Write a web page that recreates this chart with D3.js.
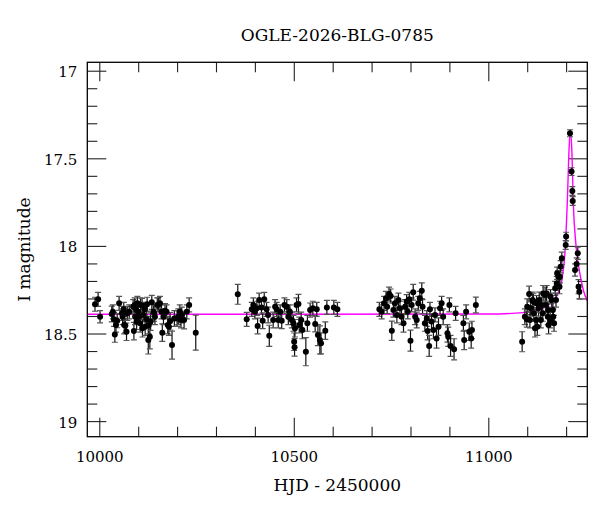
<!DOCTYPE html>
<html>
<head>
<meta charset="utf-8">
<script src="https://cdn.jsdelivr.net/npm/d3@7"></script>
<style>
  body { margin: 0; background: #fff; }
  svg text { font-family: 'DejaVu Serif', serif; fill: #000; }
</style>
</head>
<body>
<div id="chart"></div>
<script>
'use strict';

var title = 'OGLE-2026-BLG-0785',
    xAxisLabel = 'HJD - 2450000',
    yAxisLabel = 'I magnitude';

var xMajorTicks = [ 10000, 10500, 11000 ],
    xTickLabels = [ '10000', '10500', '11000' ],
    xMinorTicks = [ 10100, 10200, 10300, 10400, 10600, 10700, 10800, 10900, 11100, 11200 ],
    yMajorTicks = [ 17, 17.5, 18, 18.5, 19 ],
    yTickLabels = [ '17', '17.5', '18', '18.5', '19' ],
    yMinorTicks = [ 17.1, 17.2, 17.3, 17.4, 17.6, 17.7, 17.8, 17.9, 18.1, 18.2,
                    18.3, 18.4, 18.6, 18.7, 18.8, 18.9 ];

// OGLE photometry
var hjd = [
  9989, 9997, 10002, 10032, 10035, 10038, 10040, 10043, 10046, 10051, 10058, 10060,
  10063, 10064, 10067, 10070, 10072, 10077, 10087, 10089, 10091, 10092, 10095, 10096,
  10098, 10100, 10103, 10105, 10106, 10110, 10111, 10113, 10117, 10118, 10122, 10123,
  10126, 10127, 10130, 10132, 10135, 10139, 10141, 10143, 10149, 10152, 10156, 10160,
  10162, 10165, 10169, 10173, 10176, 10179, 10182, 10187, 10193, 10200, 10203, 10207,
  10210, 10212, 10218, 10225, 10231, 10248,
  10356, 10379, 10392, 10396, 10400, 10405, 10407, 10411, 10417, 10420, 10424, 10430,
  10434, 10437, 10447, 10452, 10456, 10460, 10465, 10469, 10476, 10482, 10486, 10490,
  10495, 10499, 10501, 10502, 10503, 10507, 10512, 10514, 10519, 10522, 10531, 10535,
  10542, 10549, 10555, 10559, 10562, 10567, 10570, 10581, 10585, 10603, 10612,
  10720, 10726, 10732, 10737, 10740, 10745, 10749, 10752, 10756, 10760, 10765, 10769,
  10773, 10777, 10782, 10786, 10790, 10793, 10797, 10800, 10803, 10807, 10812, 10816,
  10820, 10824, 10829, 10831, 10837, 10842, 10844, 10848, 10850, 10854, 10859, 10863,
  10867, 10872, 10876, 10880, 10884, 10895, 10897, 10900, 10903, 10912, 10916, 10936,
  10938, 10943, 10951, 10956, 10958, 10968,
  11087, 11094, 11099, 11100, 11105, 11107, 11109, 11114, 11116, 11117, 11120, 11123,
  11124, 11126, 11129, 11131, 11135, 11137, 11140, 11141, 11146, 11148, 11150, 11153,
  11154, 11155, 11159, 11160, 11163, 11166, 11167, 11169, 11172, 11174, 11176, 11177,
  11180, 11183, 11184, 11186, 11189, 11199, 11200, 11210, 11214, 11216, 11217, 11223,
  11227, 11230, 11232, 11234
];

var mag = [
  18.333, 18.305, 18.404, 18.389, 18.376, 18.419, 18.505, 18.452, 18.427, 18.328, 18.385, 18.404,
  18.362, 18.452, 18.455, 18.490, 18.385, 18.376, 18.347, 18.486, 18.337, 18.404, 18.366, 18.432,
  18.328, 18.376, 18.404, 18.442, 18.337, 18.340, 18.470, 18.394, 18.362, 18.461, 18.419, 18.333,
  18.537, 18.452, 18.518, 18.432, 18.322, 18.376, 18.385, 18.404, 18.337, 18.335, 18.328, 18.376,
  18.495, 18.404, 18.370, 18.376, 18.452, 18.461, 18.430, 18.566, 18.414, 18.414, 18.404, 18.376,
  18.423, 18.394, 18.423, 18.376, 18.337, 18.495,
  18.276, 18.419, 18.362, 18.337, 18.376, 18.356, 18.457, 18.309, 18.351, 18.427, 18.305, 18.362,
  18.394, 18.513, 18.423, 18.347, 18.362, 18.423, 18.376, 18.427, 18.337, 18.347, 18.404, 18.376,
  18.423, 18.442, 18.547, 18.579, 18.470, 18.337, 18.332, 18.452, 18.423, 18.480, 18.604, 18.442,
  18.366, 18.356, 18.446, 18.362, 18.509, 18.537, 18.556, 18.484, 18.351, 18.351, 18.362,
  18.362, 18.376, 18.328, 18.299, 18.347, 18.275, 18.286, 18.484, 18.366, 18.328, 18.394, 18.309,
  18.356, 18.404, 18.442, 18.347, 18.318, 18.376, 18.305, 18.541, 18.337, 18.265, 18.404, 18.423,
  18.328, 18.299, 18.256, 18.347, 18.442, 18.414, 18.486, 18.571, 18.362, 18.432, 18.480, 18.394,
  18.528, 18.461, 18.356, 18.328, 18.404, 18.499, 18.518, 18.337, 18.571, 18.590, 18.385, 18.442,
  18.537, 18.376, 18.490, 18.528, 18.480, 18.337,
  18.547, 18.404, 18.419, 18.347, 18.275, 18.423, 18.356, 18.309, 18.318, 18.385, 18.470, 18.423,
  18.328, 18.461, 18.356, 18.309, 18.423, 18.337, 18.385, 18.271, 18.280, 18.337, 18.271, 18.404,
  18.366, 18.452, 18.423, 18.290, 18.309, 18.366, 18.404, 18.442, 18.242, 18.309, 18.214, 18.156,
  18.176, 18.233, 18.176, 18.119, 18.071, 17.995, 17.947, 17.357, 17.576, 17.687, 17.744, 18.138,
  18.103, 18.042, 18.233, 18.262
];

var magErr = [
  0.040, 0.040, 0.035, 0.045, 0.040, 0.040, 0.045, 0.040, 0.040, 0.040, 0.040, 0.045,
  0.040, 0.050, 0.040, 0.050, 0.040, 0.040, 0.040, 0.050, 0.040, 0.045, 0.040, 0.045,
  0.040, 0.045, 0.040, 0.050, 0.040, 0.040, 0.050, 0.040, 0.040, 0.050, 0.045, 0.040,
  0.080, 0.050, 0.070, 0.050, 0.040, 0.040, 0.045, 0.045, 0.040, 0.040, 0.040, 0.040,
  0.050, 0.045, 0.040, 0.040, 0.050, 0.050, 0.050, 0.080, 0.045, 0.045, 0.045, 0.040,
  0.045, 0.045, 0.050, 0.040, 0.040, 0.100,
  0.057, 0.040, 0.040, 0.040, 0.040, 0.040, 0.045, 0.040, 0.040, 0.045, 0.040, 0.040,
  0.045, 0.060, 0.045, 0.040, 0.040, 0.045, 0.040, 0.045, 0.040, 0.040, 0.045, 0.040,
  0.045, 0.045, 0.050, 0.050, 0.050, 0.040, 0.055, 0.045, 0.045, 0.050, 0.080, 0.045,
  0.040, 0.040, 0.045, 0.040, 0.060, 0.080, 0.060, 0.050, 0.040, 0.040, 0.040,
  0.040, 0.040, 0.040, 0.040, 0.040, 0.040, 0.040, 0.055, 0.040, 0.040, 0.045, 0.040,
  0.040, 0.045, 0.050, 0.040, 0.040, 0.040, 0.040, 0.060, 0.040, 0.045, 0.045, 0.045,
  0.040, 0.040, 0.045, 0.040, 0.045, 0.045, 0.050, 0.060, 0.040, 0.045, 0.050, 0.040,
  0.055, 0.050, 0.040, 0.040, 0.045, 0.050, 0.055, 0.040, 0.060, 0.060, 0.040, 0.045,
  0.055, 0.040, 0.050, 0.055, 0.050, 0.045,
  0.057, 0.045, 0.045, 0.045, 0.045, 0.045, 0.045, 0.045, 0.045, 0.045, 0.050, 0.045,
  0.045, 0.050, 0.045, 0.045, 0.045, 0.045, 0.045, 0.045, 0.045, 0.045, 0.045, 0.045,
  0.045, 0.050, 0.045, 0.040, 0.040, 0.040, 0.045, 0.045, 0.040, 0.040, 0.040, 0.035,
  0.035, 0.040, 0.035, 0.035, 0.035, 0.025, 0.025, 0.020, 0.022, 0.025, 0.025, 0.035,
  0.035, 0.035, 0.040, 0.040
];

// microlensing model curve
var modelHjd = [ 9960, 10500, 11000, 11090, 11133, 11159, 11176, 11189, 11197, 11203,
                 11208, 11211, 11215, 11218.6, 11225.6, 11234, 11244, 11256 ];
var modelMag = [ 18.390, 18.390, 18.389, 18.381, 18.362, 18.330, 18.286, 18.195, 18.040, 17.757,
                 17.430, 17.340, 17.470, 17.757, 18.000, 18.140, 18.250, 18.320 ];

var margin = { top: 62.3, right: 12.7, bottom: 75.3, left: 87.3 },
    width = 600 - margin.left - margin.right,
    height = 512 - margin.top - margin.bottom;

var x = d3.scaleLinear()
    .domain( [ 9969.2, 11254.5 ] )
    .range( [ 0, width ] );

var y = d3.scaleLinear()
    .domain( [ 16.952, 19.089 ] )
    .range( [ 0, height ] );

var root = d3.select( '#chart' )
  .append( 'svg' )
    .attr( 'width', 600 )
    .attr( 'height', 512 );

var svg = root.append( 'g' )
    .attr( 'transform', 'translate(' + margin.left + ',' + margin.top + ')' );

svg.append( 'clipPath' )
    .attr( 'id', 'plot-clip' )
  .append( 'rect' )
    .attr( 'width', width )
    .attr( 'height', height );

// title and axis labels
root.append( 'text' )
    .attr( 'x', margin.left + width / 2 )
    .attr( 'y', 40.5 )
    .attr( 'text-anchor', 'middle' )
    .style( 'font-size', '17px' )
    .text( title );

root.append( 'text' )
    .attr( 'x', margin.left + width / 2 )
    .attr( 'y', 491 )
    .attr( 'text-anchor', 'middle' )
    .style( 'font-size', '17px' )
    .text( xAxisLabel );

root.append( 'text' )
    .attr( 'transform', 'translate(30,' + ( margin.top + height / 2 ) + ') rotate(-90)' )
    .attr( 'text-anchor', 'middle' )
    .style( 'font-size', '17px' )
    .text( yAxisLabel );

function styleAxis( g ) {
  g.select( '.domain' ).remove();
  g.attr( 'font-family', null ).attr( 'font-size', null );
  g.selectAll( 'line' ).attr( 'stroke', '#222' ).attr( 'stroke-width', 1.1 );
  g.selectAll( 'text' ).style( 'font-size', '15px' );
}

function noLabel() { return ''; }

// major ticks with labels, bottom and left
svg.append( 'g' )
    .attr( 'transform', 'translate(0,' + height + ')' )
    .call( d3.axisBottom( x )
      .tickValues( xMajorTicks )
      .tickSizeInner( -19 ).tickSizeOuter( 0 ).tickPadding( 14.5 )
      .tickFormat( function( d, i ) { return xTickLabels[i]; } ) )
    .call( styleAxis );

svg.append( 'g' )
    .call( d3.axisLeft( y )
      .tickValues( yMajorTicks )
      .tickSizeInner( -19 ).tickSizeOuter( 0 ).tickPadding( 10 )
      .tickFormat( function( d, i ) { return yTickLabels[i]; } ) )
    .call( styleAxis )
    .selectAll( 'text' )
      .attr( 'dy', '0.4em' );

// major ticks, top and right
svg.append( 'g' )
    .call( d3.axisTop( x ).tickValues( xMajorTicks )
      .tickSizeInner( -19 ).tickSizeOuter( 0 ).tickFormat( noLabel ) )
    .call( styleAxis );

svg.append( 'g' )
    .attr( 'transform', 'translate(' + width + ',0)' )
    .call( d3.axisRight( y ).tickValues( yMajorTicks )
      .tickSizeInner( -19 ).tickSizeOuter( 0 ).tickFormat( noLabel ) )
    .call( styleAxis );

// minor ticks on all four sides
svg.append( 'g' )
    .attr( 'transform', 'translate(0,' + height + ')' )
    .call( d3.axisBottom( x ).tickValues( xMinorTicks )
      .tickSizeInner( -10 ).tickSizeOuter( 0 ).tickFormat( noLabel ) )
    .call( styleAxis );

svg.append( 'g' )
    .call( d3.axisTop( x ).tickValues( xMinorTicks )
      .tickSizeInner( -10 ).tickSizeOuter( 0 ).tickFormat( noLabel ) )
    .call( styleAxis );

svg.append( 'g' )
    .call( d3.axisLeft( y ).tickValues( yMinorTicks )
      .tickSizeInner( -10 ).tickSizeOuter( 0 ).tickFormat( noLabel ) )
    .call( styleAxis );

svg.append( 'g' )
    .attr( 'transform', 'translate(' + width + ',0)' )
    .call( d3.axisRight( y ).tickValues( yMinorTicks )
      .tickSizeInner( -10 ).tickSizeOuter( 0 ).tickFormat( noLabel ) )
    .call( styleAxis );

// model curve, under the points
var line = d3.line()
    .x( function( d, i ) { return x( modelHjd[i] ); } )
    .y( function( d, i ) { return y( modelMag[i] ); } )
    .curve( d3.curveMonotoneX );

svg.append( 'path' )
    .attr( 'clip-path', 'url(#plot-clip)' )
    .attr( 'd', line( modelHjd ) )
    .attr( 'fill', 'none' )
    .attr( 'stroke', '#ff00ff' )
    .attr( 'stroke-width', 1.4 );

// error bars
var points = svg.append( 'g' ).attr( 'clip-path', 'url(#plot-clip)' );
var capHalf = 3;

var bars = points.selectAll( 'g.err' )
    .data( hjd )
  .enter().append( 'g' )
    .attr( 'class', 'err' )
    .attr( 'stroke', '#111' )
    .attr( 'stroke-width', 1.2 );

bars.append( 'line' )
    .attr( 'x1', function( d ) { return x( d ); } )
    .attr( 'x2', function( d ) { return x( d ); } )
    .attr( 'y1', function( d, i ) { return y( mag[i] - magErr[i] ); } )
    .attr( 'y2', function( d, i ) { return y( mag[i] + magErr[i] ); } );

bars.append( 'line' )
    .attr( 'stroke', '#555' )
    .attr( 'x1', function( d ) { return x( d ) - capHalf; } )
    .attr( 'x2', function( d ) { return x( d ) + capHalf; } )
    .attr( 'y1', function( d, i ) { return y( mag[i] - magErr[i] ); } )
    .attr( 'y2', function( d, i ) { return y( mag[i] - magErr[i] ); } );

bars.append( 'line' )
    .attr( 'stroke', '#555' )
    .attr( 'x1', function( d ) { return x( d ) - capHalf; } )
    .attr( 'x2', function( d ) { return x( d ) + capHalf; } )
    .attr( 'y1', function( d, i ) { return y( mag[i] + magErr[i] ); } )
    .attr( 'y2', function( d, i ) { return y( mag[i] + magErr[i] ); } );

// data points
points.selectAll( 'circle' )
    .data( hjd )
  .enter().append( 'circle' )
    .attr( 'cx', function( d ) { return x( d ); } )
    .attr( 'cy', function( d, i ) { return y( mag[i] ); } )
    .attr( 'r', 3 )
    .attr( 'fill', '#000' );

// frame
svg.append( 'rect' )
    .attr( 'width', width )
    .attr( 'height', height )
    .attr( 'fill', 'none' )
    .attr( 'stroke', '#000' )
    .attr( 'stroke-width', 1.3 );
</script>
</body>
</html>
